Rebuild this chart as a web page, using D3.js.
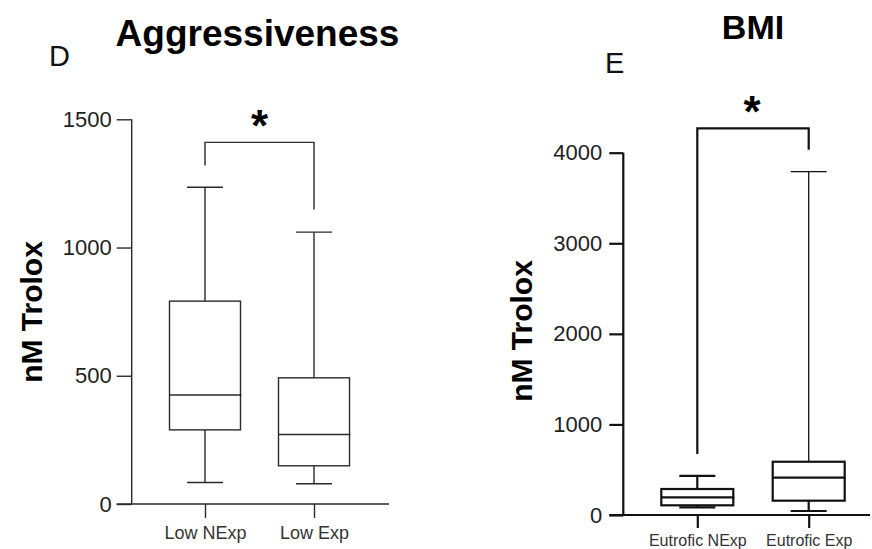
<!DOCTYPE html>
<html>
<head>
<meta charset="utf-8">
<script src="https://cdn.jsdelivr.net/npm/d3@7"></script>
<style>
  body { margin: 0; background: #fff; }
  svg { display: block; font-family: "Liberation Sans", Arial, sans-serif; }
</style>
</head>
<body>
<svg width="872" height="549"></svg>
<script>
// panel D - Aggressiveness
var aggCats = ["Low NExp", "Low Exp"];
var aggMin = [84, 79];
var aggQ1 = [289, 149];
var aggMedian = [425, 271];
var aggQ3 = [791, 492];
var aggMax = [1235, 1060];
var aggTicks = [0, 500, 1000, 1500];
var aggBracket = { top: 1410, left: 1320, right: 1148 };

// panel E - BMI
var bmiCats = ["Eutrofic NExp", "Eutrofic Exp"];
var bmiMin = [85, 44];
var bmiQ1 = [107, 158];
var bmiMedian = [195, 412];
var bmiQ3 = [287, 588];
var bmiMax = [431, 3790];
var bmiTicks = [0, 1000, 2000, 3000, 4000];
var bmiBracket = { top: 4269, left: 673, right: 4033 };

var svg = d3.select('svg');

function drawPanel(p){
    var g = svg.append('g');
    var y = d3.scaleLinear().domain(p.domain).range(p.yRange);
    var x = d3.scalePoint().domain(p.cats).range(p.xRange);

    // y axis
    var yAxis = g.append('g')
        .attr('transform', 'translate(' + p.axisX + ',0)')
        .call(d3.axisLeft(y).tickValues(p.ticks).tickSize(p.tickLen).tickPadding(p.tickPad).tickFormat(d3.format('d')));
    yAxis.select('.domain').remove();
    yAxis.selectAll('line').attr('stroke', p.col).attr('stroke-width', p.axisW);
    yAxis.selectAll('text').attr('font-size', 22).attr('fill', '#222').attr('font-family', null);
    g.append('line')
        .attr('x1', p.axisX).attr('x2', p.axisX)
        .attr('y1', y(p.domain[1])).attr('y2', y(0))
        .attr('stroke', p.col).attr('stroke-width', p.axisW);

    // x axis
    var xAxis = g.append('g')
        .attr('transform', 'translate(0,' + y(0) + ')')
        .call(d3.axisBottom(x).tickSize(p.xTickLen).tickPadding(p.xTickPad));
    xAxis.select('.domain').remove();
    xAxis.selectAll('line').attr('stroke', p.col).attr('stroke-width', p.axisW);
    xAxis.selectAll('text').attr('font-size', p.xFont).attr('fill', '#333').attr('font-family', null);
    g.append('line')
        .attr('x1', p.axisX - p.tickLen).attr('x2', p.xEnd)
        .attr('y1', y(0)).attr('y2', y(0))
        .attr('stroke', p.col).attr('stroke-width', p.axisW);

    // boxes
    for(var i = 0; i < p.cats.length; i++){
        var cx = x(p.cats[i]);
        var hw = p.boxW / 2, cw = p.capW / 2;
        // whiskers
        g.append('line').attr('x1', cx).attr('x2', cx)
            .attr('y1', y(p.max[i])).attr('y2', y(p.q3[i]))
            .attr('stroke', p.col).attr('stroke-width', p.whiskW[i]);
        g.append('line').attr('x1', cx).attr('x2', cx)
            .attr('y1', y(p.q1[i])).attr('y2', y(p.min[i]))
            .attr('stroke', p.col).attr('stroke-width', p.boxSW);
        g.append('line').attr('x1', cx - cw).attr('x2', cx + cw)
            .attr('y1', y(p.max[i])).attr('y2', y(p.max[i]))
            .attr('stroke', p.col).attr('stroke-width', p.whiskW[i]);
        g.append('line').attr('x1', cx - cw).attr('x2', cx + cw)
            .attr('y1', y(p.min[i])).attr('y2', y(p.min[i]))
            .attr('stroke', p.col).attr('stroke-width', p.boxSW);
        g.append('rect')
            .attr('x', cx - hw).attr('y', y(p.q3[i]))
            .attr('width', p.boxW).attr('height', y(p.q1[i]) - y(p.q3[i]))
            .attr('fill', 'none').attr('stroke', p.col).attr('stroke-width', p.boxSW);
        g.append('line').attr('x1', cx - hw).attr('x2', cx + hw + 1)
            .attr('y1', y(p.median[i])).attr('y2', y(p.median[i]))
            .attr('stroke', p.col).attr('stroke-width', p.boxSW);
    }

    // significance bracket
    var x0 = x(p.cats[0]), x1 = x(p.cats[1]);
    g.append('path')
        .attr('d', 'M' + x0 + ',' + y(p.bracket.left) + 'V' + y(p.bracket.top) +
                   'H' + x1 + 'V' + y(p.bracket.right))
        .attr('fill', 'none').attr('stroke', p.col).attr('stroke-width', p.bracketW);
    g.append('text')
        .attr('x', (x0 + x1) / 2 + p.starDx)
        .attr('y', y(p.bracket.top) + p.starDy)
        .attr('text-anchor', 'middle')
        .attr('font-size', 44).attr('font-weight', 'bold')
        .text('*');

    // y label
    g.append('text')
        .attr('transform', 'translate(' + p.labelX + ',' + p.labelY + ') rotate(-90)')
        .attr('text-anchor', 'middle')
        .attr('font-size', 30).attr('font-weight', 'bold')
        .text('nM Trolox');

    // title + panel letter
    g.append('text')
        .attr('x', p.titleX).attr('y', p.titleY)
        .attr('text-anchor', 'middle')
        .attr('font-size', p.titleSize).attr('font-weight', 'bold')
        .text(p.title);
    g.append('text')
        .attr('x', p.letterX).attr('y', p.letterY)
        .attr('font-size', 29).attr('fill', '#111')
        .text(p.letter);
}

drawPanel({
    cats: aggCats, min: aggMin, q1: aggQ1, median: aggMedian, q3: aggQ3, max: aggMax,
    ticks: aggTicks, bracket: aggBracket, domain: [0, 1500],
    yRange: [504, 119.3], xRange: [205, 314], axisX: 131.7, xEnd: 389,
    tickLen: 15, tickPad: 5, xTickLen: 14, xTickPad: 8.5, xFont: 18,
    boxW: 71, capW: 36, col: '#2a2a2a', axisW: 1.4, boxSW: 1.4, whiskW: [1.4, 1.4], bracketW: 1.4,
    starDx: 0, starDy: -1,
    labelX: 42, labelY: 312, title: 'Aggressiveness', titleX: 257.5, titleY: 46, titleSize: 37,
    letter: 'D', letterX: 49, letterY: 66
});

drawPanel({
    cats: bmiCats, min: bmiMin, q1: bmiQ1, median: bmiMedian, q3: bmiQ3, max: bmiMax,
    ticks: bmiTicks, bracket: bmiBracket, domain: [0, 4000],
    yRange: [515, 152.7], xRange: [697.3, 808.7], axisX: 623.3, xEnd: 870,
    tickLen: 14, tickPad: 7, xTickLen: 13, xTickPad: 7, xFont: 16,
    boxW: 72, capW: 36, col: '#111', axisW: 2.2, boxSW: 2.2, whiskW: [2.2, 1.3], bracketW: 2.2,
    starDx: -1, starDy: -1,
    labelX: 532, labelY: 331, title: 'BMI', titleX: 753, titleY: 39, titleSize: 34,
    letter: 'E', letterX: 605, letterY: 72.7
});
</script>
</body>
</html>
